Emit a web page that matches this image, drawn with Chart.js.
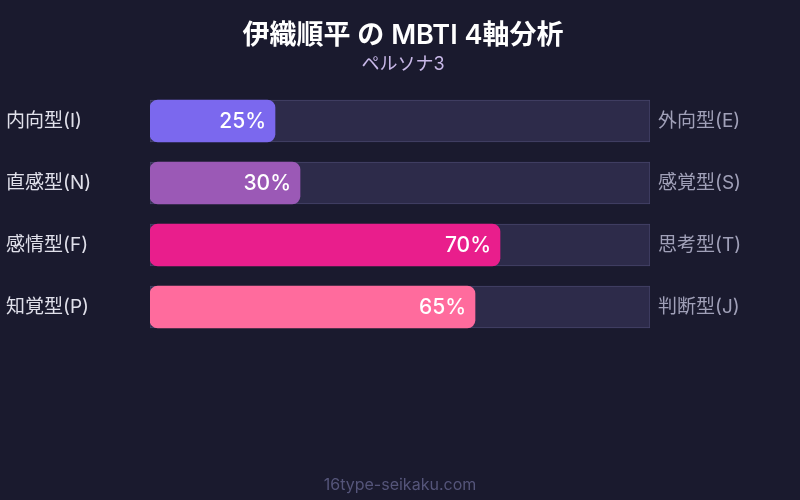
<!DOCTYPE html>
<html>
<head>
<meta charset="utf-8">
<script src="https://cdn.jsdelivr.net/npm/chart.js@4/dist/chart.umd.min.js"></script>
<style>
html,body{margin:0;padding:0;background:#1a1a2e;}
#wrap{width:800px;height:500px;position:relative;}
</style>
</head>
<body>
<div id="wrap"><canvas id="c" width="800" height="500"></canvas></div>
<script>
const leftLabels = ['内向型(I)', '直感型(N)', '感情型(F)', '知覚型(P)'];
const rightLabels = ['外向型(E)', '感覚型(S)', '思考型(T)', '判断型(J)'];
const values = [25, 30, 70, 65];
const trackValues = [100, 100, 100, 100];
const barColors = ['#7b68ee', '#9b59b6', '#e91e8c', '#ff6b9d'];
const titleText = '伊織順平 の MBTI 4軸分析';
const subtitleText = 'ペルソナ3';
const footerText = '16type-seikaku.com';

const FONT = "Inter, 'Noto Sans CJK JP', sans-serif";

const valueLabels = {
  id: 'valueLabels',
  afterDatasetsDraw(chart) {
    const ctx = chart.ctx;
    const meta = chart.getDatasetMeta(0);
    ctx.save();
    ctx.font = "500 21px " + FONT;
    ctx.fillStyle = '#ffffff';
    ctx.textAlign = 'right';
    ctx.textBaseline = 'middle';
    meta.data.forEach((bar, i) => {
      ctx.fillText(values[i] + '%', bar.x - 9, bar.y + 1);
    });
    ctx.restore();
  }
};

const footer = {
  id: 'footer',
  afterDraw(chart) {
    const ctx = chart.ctx;
    ctx.save();
    ctx.font = "16px " + FONT;
    ctx.fillStyle = '#55557a';
    ctx.textAlign = 'center';
    ctx.textBaseline = 'middle';
    ctx.fillText(footerText, chart.width / 2, 485);
    ctx.restore();
  }
};

new Chart(document.getElementById('c'), {
  type: 'bar',
  data: {
    labels: leftLabels,
    datasets: [
      {
        data: values,
        backgroundColor: barColors,
        borderRadius: 8,
        borderSkipped: false,
        barThickness: 42,
        order: 0
      },
      {
        data: trackValues,
        backgroundColor: '#2d2b4a',
        borderColor: '#46446a',
        borderWidth: 1,
        borderSkipped: false,
        barThickness: 42,
        order: 1
      }
    ]
  },
  plugins: [valueLabels, footer],
  options: {
    indexAxis: 'y',
    responsive: false,
    animation: false,
    devicePixelRatio: 1,
    layout: { padding: { left: 6, right: 0, top: 0, bottom: 162 } },
    datasets: { bar: { grouped: false } },
    scales: {
      x: { display: false, min: 0, max: 100 },
      y: {
        position: 'left',
        grid: { display: false },
        border: { display: false },
        ticks: {
          color: '#e0e0ea',
          font: { size: 19, family: FONT },
          crossAlign: 'far'
        },
        afterFit(scale) { scale.width = 144; }
      },
      y2: {
        position: 'right',
        type: 'category',
        labels: rightLabels,
        offset: true,
        grid: { display: false },
        border: { display: false },
        ticks: {
          color: '#a0a0b8',
          font: { size: 19, family: FONT },
          crossAlign: 'near',
          padding: 0
        },
        afterFit(scale) { scale.width = 150; }
      }
    },
    plugins: {
      legend: { display: false },
      tooltip: { enabled: false },
      title: {
        display: true,
        text: titleText,
        color: '#ffffff',
        font: { size: 27, weight: '600', family: FONT },
        padding: { top: 20, bottom: 1.6 }
      },
      subtitle: {
        display: true,
        text: subtitleText,
        color: '#c8b8e8',
        font: { size: 18, family: FONT },
        padding: { top: 0, bottom: 14.4 }
      }
    }
  }
});
</script>
</body>
</html>
